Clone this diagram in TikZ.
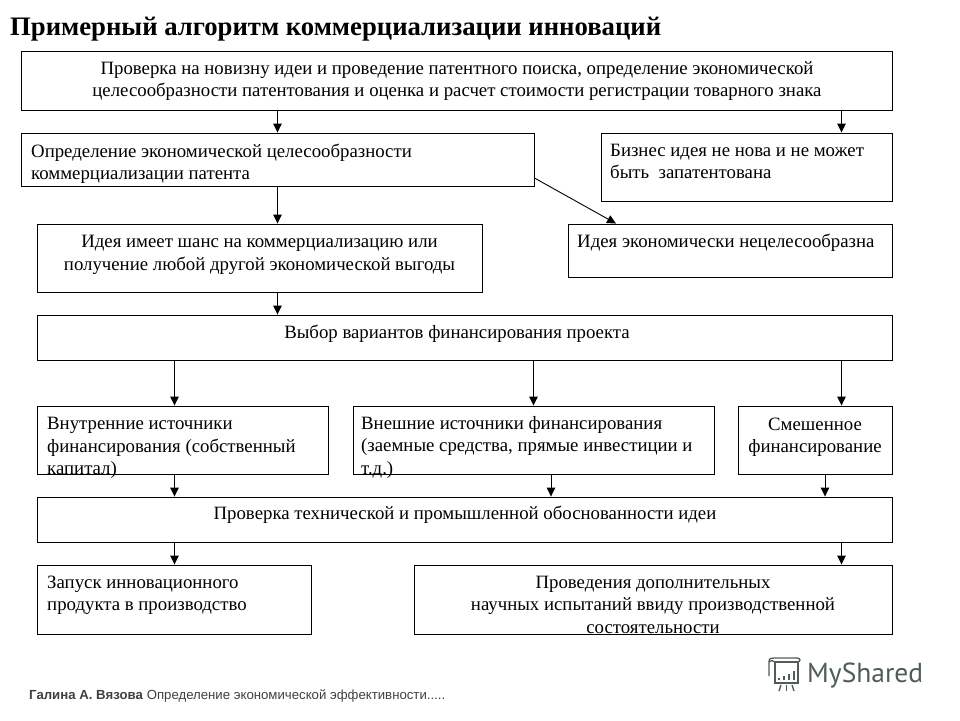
\documentclass[tikz,border=0pt]{standalone}
\usepackage{fontspec}
\setmainfont{Liberation Serif}
\newfontfamily\footfont{Liberation Sans}
\newfontfamily\logofont{PT Sans}
\usetikzlibrary{arrows.meta}
\definecolor{logogray}{HTML}{4E5C5A}
\tikzset{
  blk/.style={draw=black, line width=0.9pt, inner sep=0pt},
  txtblk/.style={inner sep=0pt, align=left, anchor=north west, font=\fontsize{18.8}{22.6}\selectfont, execute at begin node=\strut},
  txtmid/.style={inner sep=0pt, align=center, anchor=north, font=\fontsize{18.8}{22.6}\selectfont, execute at begin node=\strut},
  arr/.style={line width=0.9pt, -{Triangle[length=9pt,width=8.5pt]}},
  logoline/.style={draw=logogray, line width=1.3pt}
}
\begin{document}
\begin{tikzpicture}[x=1pt,y=-1pt]
  \useasboundingbox (0,0) rectangle (960,720);

  \node[inner sep=0pt, anchor=base west, font=\fontsize{26.7}{30}\selectfont\bfseries] (title) at (10,35)
    {Примерный алгоритм коммерциализации инноваций};

  % boxes
  \node[blk, minimum width=871pt, minimum height=59pt] (top) at (456.5,80.5) {};
  \node[blk, minimum width=513pt, minimum height=53pt] (def) at (277.5,159.5) {};
  \node[blk, minimum width=291pt, minimum height=68pt] (biz) at (746.5,167) {};
  \node[blk, minimum width=445pt, minimum height=68pt] (idea) at (259.5,258) {};
  \node[blk, minimum width=324pt, minimum height=53pt] (nope) at (730,250.5) {};
  \node[blk, minimum width=855pt, minimum height=45pt] (fin) at (464.5,337.5) {};
  \node[blk, minimum width=291pt, minimum height=68pt] (own) at (182.5,440) {};
  \node[blk, minimum width=361pt, minimum height=68pt] (ext) at (533.5,440) {};
  \node[blk, minimum width=154pt, minimum height=68pt] (mix) at (815,440) {};
  \node[blk, minimum width=855pt, minimum height=45pt] (chk) at (464.5,519.5) {};
  \node[blk, minimum width=274pt, minimum height=69pt] (run) at (174,599.5) {};
  \node[blk, minimum width=478pt, minimum height=69pt] (test) at (653,599.5) {};

  % texts
  \node[txtmid] (toptxt) at (457,61) {Проверка на новизну идеи и проведение патентного поиска, определение экономической\\целесообразности патентования и оценка и расчет стоимости регистрации товарного знака};
  \node[txtblk] (deftxt) at (31,143.5) {Определение экономической целесообразности\\коммерциализации патента};
  \node[txtblk] (biztxt) at (610,143.5) {Бизнес идея не нова и не может\\быть~ запатентована};
  \node[txtmid] (ideatxt) at (259.5,235) {Идея имеет шанс на коммерциализацию или\\получение любой другой экономической выгоды};
  \node[txtblk] (nopetxt) at (577,231) {Идея экономически нецелесообразна};
  \node[txtmid] (fintxt) at (457,322) {Выбор вариантов финансирования проекта};
  \node[txtblk] (owntxt) at (47,417) {Внутренние источники\\финансирования (собственный\\капитал)};
  \node[txtblk] (exttxt) at (361,416) {Внешние источники финансирования\\(заемные средства, прямые инвестиции и\\т.д.)};
  \node[txtmid] (mixtxt) at (815,417.5) {Смешенное\\финансирование};
  \node[txtmid] (chktxt) at (465,503) {Проверка технической и промышленной обоснованности идеи};
  \node[txtblk] (runtxt) at (47,575.5) {Запуск инновационного\\продукта в производство};
  \node[txtmid] (testtxt) at (653,575.5) {Проведения дополнительных\\научных испытаний ввиду производственной\\состоятельности};

  % arrows
  \foreach \a/\b/\i in {top/def/277.5, top/biz/841.5, def/idea/277.5, idea/fin/277.5,
    fin/own/174.5, fin/ext/533.5, fin/mix/841.5, own/chk/174.5, ext/chk/551, mix/chk/825,
    chk/run/174.5, chk/test/841.5} {
   \draw[arr] (\a.south -| \i,0) -- (\b.north -| \i,0);
  }
  \draw[arr] (def.east |- 0,178) -- (nope.north -| 616,0);

  % footer
  \node[inner sep=0pt, anchor=base west, font=\footfont\fontsize{13.2}{15}\selectfont, text=black!75] (foot) at (29,699)
    {\textbf{Галина А. Вязова} Определение экономической эффективности.....};

  % logo
  \draw[logoline] (775,662) rectangle (798,683);
  \draw[logoline] (769,676) -- (769,662) .. controls (769,658) and (771,658) .. (774,658) -- (797,658) .. controls (801,658) and (801,662) .. (797,662);
  \draw[logoline] (769,662) .. controls (770,660) and (773,660) .. (775,662);
  \foreach \i/\j in {779/2,784/4,789/6,794/9} {
   \draw[logogray, line width=2.2pt] (\i,680) -- (\i,680-\j);
  }
  \draw[logoline] (781,685) -- (779,691);
  \draw[logoline] (786.5,685) -- (786.5,691);
  \draw[logoline] (792,685) -- (794,691);
  \node[inner sep=0pt, anchor=base west, font=\logofont\fontsize{27.5}{30}\selectfont, text=logogray] (logo) at (807,682) {MyShared};
\end{tikzpicture}
\end{document}
